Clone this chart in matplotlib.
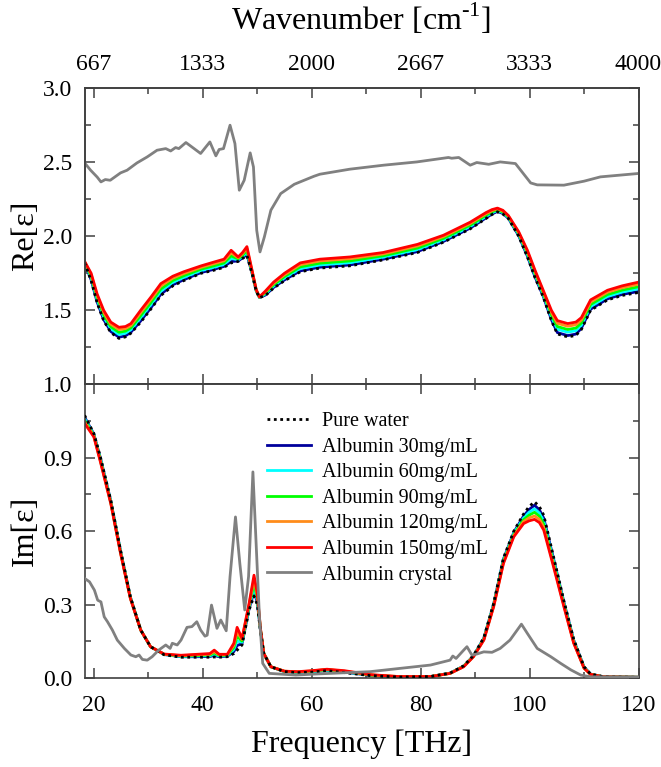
import matplotlib
matplotlib.use('Agg')
import matplotlib.pyplot as plt
from matplotlib.ticker import MultipleLocator, FormatStrFormatter

plt.rcParams['font.family'] = ['Liberation Serif', 'DejaVu Serif']
plt.rcParams['mathtext.fontset'] = 'custom'
plt.rcParams['mathtext.rm'] = 'Liberation Serif'

# ---- Re[eps] : frequency grid (THz) and series ----
f_re = [18.3, 19.5, 20.6, 21.8, 23.1, 24.6, 25.8, 26.8, 28.6, 30.5, 32.3, 34.5, 36.5,
        39.7, 42.0, 43.9, 45.2, 46.5, 47.3, 48.1, 49.1, 49.8, 50.4, 51.5, 53.0, 55.0,
        57.9, 61.5, 67.0, 73.1, 79.4, 84.2, 89.1, 92.0, 93.1, 94.1, 95.1, 96.1, 98.0, 99.6, 101.0,
        102.5, 104.0, 105.1, 107.0, 108.5, 109.5, 111.2, 114.3, 117.0, 120.0]
re_water = [1.82, 1.70, 1.55, 1.43, 1.35, 1.31, 1.32, 1.345, 1.42, 1.51, 1.60, 1.665, 1.70,
            1.75, 1.77, 1.79, 1.82, 1.83, 1.85, 1.87, 1.74, 1.63, 1.585, 1.60, 1.65, 1.70,
            1.76, 1.785, 1.80, 1.84, 1.89, 1.96, 2.05, 2.12, 2.147, 2.165, 2.150, 2.12, 2.00, 1.86, 1.72,
            1.59, 1.43, 1.34, 1.32, 1.33, 1.37, 1.50, 1.57, 1.60, 1.62]
re_30 = [1.821, 1.705, 1.556, 1.437, 1.357, 1.318, 1.327, 1.352, 1.428, 1.518, 1.608, 1.672, 1.706,
         1.755, 1.776, 1.796, 1.829, 1.833, 1.854, 1.876, 1.742, 1.631, 1.586, 1.603, 1.654, 1.705,
         1.766, 1.791, 1.806, 1.845, 1.896, 1.965, 2.055, 2.124, 2.150, 2.168, 2.153, 2.122, 2.003, 1.865, 1.725,
         1.595, 1.437, 1.349, 1.329, 1.339, 1.378, 1.507, 1.577, 1.607, 1.627]
re_60 = [1.824, 1.718, 1.571, 1.455, 1.375, 1.336, 1.345, 1.368, 1.448, 1.538, 1.628, 1.688, 1.721,
         1.768, 1.789, 1.809, 1.850, 1.841, 1.864, 1.891, 1.747, 1.634, 1.587, 1.611, 1.664, 1.718,
         1.781, 1.806, 1.821, 1.858, 1.909, 1.976, 2.066, 2.134, 2.159, 2.174, 2.159, 2.127, 2.011, 1.876, 1.738,
         1.606, 1.455, 1.372, 1.352, 1.362, 1.398, 1.525, 1.593, 1.623, 1.645]
re_90 = [1.826, 1.728, 1.583, 1.469, 1.389, 1.351, 1.359, 1.381, 1.464, 1.554, 1.644, 1.701, 1.733,
         1.778, 1.800, 1.820, 1.867, 1.847, 1.872, 1.903, 1.751, 1.636, 1.588, 1.617, 1.672, 1.728,
         1.793, 1.818, 1.833, 1.868, 1.920, 1.986, 2.075, 2.142, 2.165, 2.179, 2.164, 2.131, 2.017, 1.885, 1.748,
         1.615, 1.469, 1.390, 1.370, 1.380, 1.414, 1.539, 1.606, 1.636, 1.659]
re_120 = [1.828, 1.740, 1.598, 1.486, 1.406, 1.370, 1.376, 1.397, 1.484, 1.574, 1.664, 1.717, 1.748,
          1.790, 1.814, 1.834, 1.888, 1.854, 1.882, 1.918, 1.756, 1.638, 1.589, 1.624, 1.682, 1.740,
          1.808, 1.833, 1.848, 1.880, 1.934, 1.998, 2.086, 2.152, 2.173, 2.185, 2.170, 2.136, 2.024, 1.896, 1.760,
          1.626, 1.486, 1.412, 1.392, 1.402, 1.434, 1.556, 1.622, 1.652, 1.676]
re_150 = [1.83, 1.75, 1.61, 1.50, 1.42, 1.385, 1.39, 1.41, 1.50, 1.59, 1.68, 1.73, 1.76,
          1.80, 1.825, 1.845, 1.905, 1.86, 1.89, 1.93, 1.76, 1.64, 1.59, 1.63, 1.69, 1.75,
          1.82, 1.845, 1.86, 1.89, 1.945, 2.007, 2.095, 2.16, 2.180, 2.19, 2.175, 2.14, 2.03, 1.905, 1.77,
          1.635, 1.50, 1.43, 1.41, 1.42, 1.45, 1.57, 1.635, 1.665, 1.69]

f_re_cry = [18.2, 19.4, 20.6, 21.3, 22.1, 23.0, 24.9, 26.1, 27.9, 29.8, 31.6, 33.2, 34.1, 35.0,
            35.6, 36.9, 38.4, 39.6, 41.3, 42.4, 43.0, 43.8, 45.0, 45.9, 46.7, 47.6, 48.7, 49.3,
            49.9, 50.5, 51.3, 52.5, 54.3, 56.8, 60.4, 61.5, 67.0, 73.2, 79.3, 85.1, 85.7, 87.0,
            89.1, 90.3, 92.5, 94.6, 97.4, 98.6, 100.2, 101.4, 106.3, 110.0, 113.0, 120.0]
re_crystal = [2.50, 2.446, 2.40, 2.367, 2.383, 2.378, 2.428, 2.446, 2.495, 2.536, 2.581, 2.592, 2.576, 2.599,
              2.592, 2.633, 2.592, 2.559, 2.637, 2.543, 2.586, 2.592, 2.75, 2.626, 2.311, 2.378, 2.563, 2.468,
              2.04, 1.894, 1.995, 2.176, 2.288, 2.351, 2.405, 2.419, 2.453, 2.48, 2.502, 2.532, 2.527, 2.532,
              2.48, 2.498, 2.486, 2.502, 2.491, 2.435, 2.36, 2.347, 2.345, 2.372, 2.401, 2.424]

# ---- Im[eps] ----
f_im = [18.3, 20.0, 21.2, 23.1, 24.9, 26.7, 28.6, 30.4, 32.9, 36.0, 39.0, 41.3, 42.1, 43.0,
        44.5, 45.7, 46.3, 47.2, 48.5, 49.4, 50.0, 50.6, 51.2, 52.5, 55.0, 57.4, 60.0, 62.8,
        66.0, 70.7, 76.0, 81.8, 85.4, 87.9, 89.7, 91.6, 93.4, 95.2, 97.1, 98.9, 99.9, 100.9, 101.8, 102.6,
        104.4, 106.3, 108.1, 110.0, 111.2, 113.6, 120.0]
im_water = [1.073, 0.999, 0.903, 0.727, 0.522, 0.332, 0.196, 0.128, 0.095, 0.085, 0.085, 0.085, 0.086, 0.085,
            0.087, 0.100, 0.114, 0.135, 0.278, 0.335, 0.300, 0.190, 0.100, 0.046, 0.026, 0.022, 0.024, 0.030,
            0.022, 0.010, 0.004, 0.006, 0.020, 0.050, 0.092, 0.165, 0.305, 0.490, 0.600, 0.670, 0.700, 0.720, 0.700, 0.665,
            0.495, 0.315, 0.158, 0.046, 0.016, 0.005, 0.003]
im_30 = [1.066, 0.996, 0.899, 0.724, 0.519, 0.331, 0.196, 0.128, 0.096, 0.087, 0.087, 0.088, 0.092, 0.087,
         0.089, 0.108, 0.133, 0.140, 0.283, 0.352, 0.309, 0.192, 0.100, 0.046, 0.026, 0.023, 0.025, 0.031,
         0.024, 0.011, 0.004, 0.006, 0.020, 0.049, 0.091, 0.163, 0.302, 0.486, 0.595, 0.662, 0.688, 0.706, 0.687, 0.653,
         0.487, 0.310, 0.155, 0.045, 0.016, 0.005, 0.003]
im_60 = [1.060, 0.993, 0.895, 0.721, 0.517, 0.329, 0.196, 0.128, 0.096, 0.088, 0.090, 0.091, 0.097, 0.090,
         0.091, 0.117, 0.151, 0.146, 0.289, 0.369, 0.318, 0.194, 0.100, 0.046, 0.027, 0.024, 0.026, 0.032,
         0.025, 0.012, 0.005, 0.006, 0.020, 0.048, 0.090, 0.161, 0.299, 0.481, 0.591, 0.654, 0.677, 0.691, 0.674, 0.641,
         0.479, 0.305, 0.152, 0.044, 0.016, 0.005, 0.003]
im_90 = [1.053, 0.991, 0.891, 0.719, 0.514, 0.328, 0.196, 0.128, 0.097, 0.090, 0.092, 0.094, 0.103, 0.092,
         0.093, 0.125, 0.170, 0.151, 0.294, 0.386, 0.328, 0.196, 0.100, 0.046, 0.027, 0.024, 0.028, 0.034,
         0.027, 0.012, 0.005, 0.006, 0.019, 0.048, 0.089, 0.159, 0.297, 0.477, 0.586, 0.647, 0.665, 0.677, 0.661, 0.628,
         0.470, 0.301, 0.148, 0.042, 0.015, 0.005, 0.003]
im_120 = [1.047, 0.988, 0.887, 0.716, 0.512, 0.326, 0.196, 0.128, 0.097, 0.091, 0.095, 0.097, 0.108, 0.095,
          0.095, 0.134, 0.188, 0.157, 0.300, 0.403, 0.337, 0.198, 0.100, 0.046, 0.028, 0.025, 0.029, 0.035,
          0.028, 0.013, 0.006, 0.006, 0.019, 0.047, 0.088, 0.157, 0.294, 0.472, 0.582, 0.639, 0.654, 0.662, 0.648, 0.616,
          0.462, 0.296, 0.145, 0.041, 0.015, 0.005, 0.003]
im_150 = [1.040, 0.985, 0.883, 0.713, 0.509, 0.325, 0.196, 0.128, 0.098, 0.093, 0.097, 0.100, 0.114, 0.097,
          0.097, 0.142, 0.207, 0.162, 0.305, 0.420, 0.346, 0.200, 0.100, 0.046, 0.028, 0.026, 0.030, 0.036,
          0.030, 0.014, 0.006, 0.006, 0.019, 0.046, 0.087, 0.155, 0.291, 0.468, 0.577, 0.631, 0.642, 0.648, 0.635, 0.604,
          0.454, 0.291, 0.142, 0.040, 0.015, 0.005, 0.003]

f_im_cry = [18.3, 19.2, 20.1, 20.7, 21.3, 21.9, 22.5, 23.4, 24.3, 25.6, 26.8, 27.7, 28.3, 28.9, 29.8,
            30.7, 31.9, 33.2, 34.0, 34.4, 35.3, 36.0, 37.1, 38.0, 38.9, 39.6, 40.4, 40.8, 41.6, 42.6,
            43.3, 44.3, 45.0, 46.0, 46.8, 47.7, 48.4, 49.2, 49.9, 50.4, 51.0, 52.2, 57.1, 60.3, 70.7,
            81.8, 85.4, 85.9, 86.5, 87.9, 88.5, 89.4, 90.3, 91.6, 93.1, 94.6, 96.4, 97.5, 98.5, 99.6,
            101.4, 103.9, 105.7, 107.6, 109.4, 111.2, 120.0]
im_crystal = [0.407, 0.393, 0.359, 0.318, 0.311, 0.250, 0.230, 0.196, 0.155, 0.121, 0.094, 0.087, 0.094, 0.076, 0.073,
              0.087, 0.114, 0.135, 0.121, 0.142, 0.135, 0.155, 0.207, 0.210, 0.230, 0.196, 0.171, 0.175, 0.298, 0.203,
              0.237, 0.193, 0.414, 0.658, 0.468, 0.278, 0.414, 0.842, 0.495, 0.250, 0.060, 0.019, 0.012, 0.016, 0.026,
              0.053, 0.073, 0.090, 0.080, 0.114, 0.128, 0.094, 0.098, 0.107, 0.105, 0.121, 0.155, 0.189, 0.220, 0.182,
              0.121, 0.087, 0.060, 0.033, 0.012, 0.005, 0.004]

freq_ticks = [20, 40, 60, 80, 100, 120]
wavenumber_labels = ['667', '1333', '2000', '2667', '3333', '4000']

labels = ['Pure water', 'Albumin 30mg/mL', 'Albumin 60mg/mL', 'Albumin 90mg/mL',
          'Albumin 120mg/mL', 'Albumin 150mg/mL', 'Albumin crystal']
colors = ['black', '#00009c', '#00ffff', '#00ff00', '#ff8c1a', '#ff0000', '#808080']

fig = plt.figure(figsize=(6.61, 7.67), dpi=100)
ax1 = fig.add_axes([0.128, 0.499, 0.838, 0.386])
ax2 = fig.add_axes([0.128, 0.116, 0.838, 0.383])

re_series = [re_water, re_30, re_60, re_90, re_120, re_150]
im_series = [im_water, im_30, im_60, im_90, im_120, im_150]

for i in range(6):
    ls = (0, (1, 1.3)) if i == 0 else '-'
    z = 3 if i == 0 else 2 + i * 0.1
    ax1.plot(f_re, re_series[i], color=colors[i], lw=2.0, ls=ls, label=labels[i], zorder=z)
    ax2.plot(f_im, im_series[i], color=colors[i], lw=2.0, ls=ls, label=labels[i], zorder=z)
ax1.plot(f_re_cry, re_crystal, color=colors[6], lw=2.0, label=labels[6], zorder=4)
ax2.plot(f_im_cry, im_crystal, color=colors[6], lw=2.0, label=labels[6], zorder=4)

spine_col = '#404040'
for ax in (ax1, ax2):
    ax.set_xlim(18.3, 120)
    ax.xaxis.set_major_locator(MultipleLocator(20))
    ax.xaxis.set_minor_locator(MultipleLocator(10))
    ax.tick_params(which='both', direction='in', top=True, right=True, labelsize=17,
                   color=spine_col, width=1.1)
    ax.tick_params(which='major', length=7)
    ax.tick_params(which='minor', length=4.5)
    ax.tick_params(axis='y', pad=9)
    ax.tick_params(axis='x', pad=12)
    for s in ax.spines.values():
        s.set_color(spine_col)
        s.set_linewidth(1.2)

ax1.set_ylim(1.0, 3.0)
ax1.yaxis.set_major_locator(MultipleLocator(0.5))
ax1.yaxis.set_minor_locator(MultipleLocator(0.25))
ax1.yaxis.set_major_formatter(FormatStrFormatter('%.1f'))
ax1.tick_params(labelbottom=False)
ax1.set_ylabel('Re[ε]', fontsize=23, labelpad=2)

ax2.set_ylim(0.0, 1.2)
ax2.set_yticks([0.0, 0.3, 0.6, 0.9, 1.2])
ax2.set_yticklabels(['0.0', '0.3', '0.6', '0.9', ''])
ax2.yaxis.set_minor_locator(MultipleLocator(0.15))
ax2.set_xticks(freq_ticks)
ax2.set_ylabel('Im[ε]', fontsize=23, labelpad=2)
ax2.set_xlabel('Frequency [THz]', fontsize=23, labelpad=10)

top = ax1.twiny()
top.set_xlim(ax1.get_xlim())
top.set_xticks(freq_ticks)
top.set_xticklabels(wavenumber_labels)
top.xaxis.set_minor_locator(MultipleLocator(10))
top.tick_params(which='both', direction='in', labelsize=17, color=spine_col, width=1.1, pad=9.5)
top.tick_params(which='major', length=7)
top.tick_params(which='minor', length=4.5)
top.set_xlabel('Wavenumber [cm$^{\\mathregular{\u20101}}$]', fontsize=23, labelpad=17)
for s in top.spines.values():
    s.set_color(spine_col)
    s.set_linewidth(1.2)

ax2.legend(loc='upper left', bbox_to_anchor=(0.329, 0.905), frameon=False, fontsize=14.5,
           borderpad=0, borderaxespad=0, handlelength=2.2, handletextpad=0.55,
           labelspacing=0.32)

fig.savefig('out.png', dpi=100)
